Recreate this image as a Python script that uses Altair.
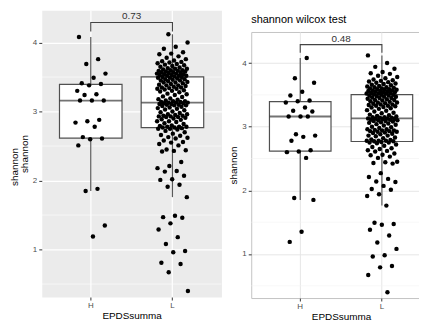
import altair as alt
import pandas as pd

# ---------------- data ----------------
GROUPS = ["H", "L"]

H_VALUES = [4.08, 3.76, 3.69, 3.55, 3.49, 3.41, 3.40, 3.38, 3.30, 3.25, 3.24,
            3.16, 3.16, 3.16,
            2.88, 2.86, 2.84, 2.78, 2.63, 2.61, 2.60, 2.51, 1.88, 1.85, 1.35, 1.19]

L_VALUES = [
    # above Q3
    4.12, 4.00, 3.94, 3.91, 3.86, 3.84, 3.83, 3.80, 3.78, 3.76, 3.74, 3.73, 3.72,
    3.71, 3.70, 3.69, 3.68, 3.67, 3.66, 3.65, 3.64, 3.63, 3.62, 3.62, 3.61, 3.60,
    3.60, 3.59, 3.59, 3.58, 3.58, 3.57, 3.57, 3.56, 3.56, 3.55, 3.55, 3.54, 3.54,
    3.53, 3.53, 3.52, 3.52, 3.52, 3.51,
    # median .. Q3
    3.50, 3.50, 3.49, 3.49, 3.48, 3.47, 3.47, 3.46, 3.45, 3.45, 3.44, 3.43, 3.42,
    3.42, 3.41, 3.40, 3.39, 3.38, 3.38, 3.37, 3.36, 3.35, 3.35, 3.34, 3.33, 3.33,
    3.32, 3.31, 3.30, 3.29, 3.28, 3.26, 3.25, 3.24, 3.22, 3.21, 3.19, 3.18, 3.17,
    3.16, 3.15, 3.15, 3.14, 3.14, 3.13,
    # Q1 .. median
    3.13, 3.13, 3.12, 3.12, 3.11, 3.11, 3.10, 3.10, 3.09, 3.09, 3.08, 3.07, 3.06,
    3.05, 3.04, 3.03, 3.02, 3.00, 2.99, 2.98, 2.96, 2.96, 2.95, 2.94, 2.94, 2.93,
    2.93, 2.92, 2.92, 2.91, 2.90, 2.89, 2.88, 2.86, 2.86, 2.85, 2.83, 2.82, 2.80,
    2.79, 2.78, 2.78, 2.78, 2.77, 2.77,
    # below Q1
    2.76, 2.75, 2.75, 2.74, 2.72, 2.70, 2.68, 2.66, 2.65, 2.63, 2.62, 2.61, 2.58,
    2.56, 2.55, 2.53, 2.51,
    # lower tail
    2.45, 2.44, 2.43, 2.42, 2.27, 2.21, 2.18, 2.14, 2.13, 2.07, 2.02, 2.01, 1.94,
    1.91, 1.76, 1.49, 1.47, 1.46, 1.38, 1.29, 1.18, 1.08, 0.98, 0.96, 0.81, 0.79,
    0.67, 0.40,
]

P_LABELS = ["0.73", "0.48"]
BRACKET_X = ["H", "H", "L", "L"]
BRACKET_Y = [4.16, 4.29, 4.29, 4.16]
P_LABEL_Y = 4.38
RIGHT_TITLE = "shannon wilcox test"
X_TITLE = "EPDSsumma"
Y_TITLE = "shannon"
Y_MAJOR = [1, 2, 3, 4]
Y_MINOR = [0.5, 1.5, 2.5, 3.5]

FONT = "Liberation Sans"


def jitter(n, phase):
    return [((i * 0.6180339887 + phase) % 1.0 - 0.5) * 0.38 for i in range(n)]


def points_frame(phase_h, phase_l):
    rows = []
    for v, j in zip(H_VALUES, jitter(len(H_VALUES), phase_h)):
        rows.append({"grp": "H", "shannon": v, "jit": j})
    for v, j in zip(L_VALUES, jitter(len(L_VALUES), phase_l)):
        rows.append({"grp": "L", "shannon": v, "jit": j})
    return pd.DataFrame(rows)


def panel(width, height, domain, box_size, style, p_label, phases, y_title_pad,
          extra_title=False):
    pts = points_frame(*phases)
    xscale = alt.Scale(domain=GROUPS, paddingInner=0, paddingOuter=0.1)
    yscale = alt.Scale(domain=domain, nice=False, zero=False)
    xaxis = alt.Axis(title=X_TITLE, labelAngle=0, grid=True, gridColor=style["grid"],
                     gridWidth=style["gw"], tickSize=3, tickColor="#333333",
                     labelColor="#4D4D4D", labelFontSize=8, labelPadding=2,
                     domain=False, titleFontSize=10, titleFontWeight="normal",
                     titleColor="black", titlePadding=1, labelFont=FONT, titleFont=FONT)
    yaxis = alt.Axis(values=Y_MAJOR, format="d", labelOverlap=False, labelFlush=False,
                     grid=True, gridColor=style["grid"], gridWidth=style["gw"],
                     tickSize=3, tickColor="#333333", labelColor="#4D4D4D",
                     labelFontSize=8, labelPadding=2, domain=False,
                     title=Y_TITLE, titleFontSize=10, titleFontWeight="normal",
                     titleColor="black", titlePadding=y_title_pad,
                     labelFont=FONT, titleFont=FONT)

    minor = alt.Chart(pd.DataFrame({"m": Y_MINOR})).mark_rule(
        color=style["grid_minor"], strokeWidth=style["gw_minor"]
    ).encode(y=alt.Y("m:Q", scale=yscale, axis=yaxis))

    box = alt.Chart(pts).mark_boxplot(
        extent=1.5, size=box_size, outliers=False, ticks=False,
        box={"fill": "white", "stroke": "#505050", "strokeWidth": 1.2},
        median={"color": "#383838", "thickness": 1.8},
        rule={"color": "#5A5A5A", "strokeWidth": 1.2},
    ).encode(
        x=alt.X("grp:N", scale=xscale, axis=xaxis),
        y=alt.Y("shannon:Q"),
    )
    dots = alt.Chart(pts).mark_circle(size=20, color="black", opacity=1).encode(
        x=alt.X("grp:N"),
        xOffset=alt.XOffset("jit:Q", scale=alt.Scale(domain=[-0.5, 0.5])),
        y=alt.Y("shannon:Q"),
    )
    br = pd.DataFrame({"grp": BRACKET_X, "y": BRACKET_Y, "k": list(range(4))})
    bracket = alt.Chart(br).mark_line(color="#444444", strokeWidth=1.1).encode(
        x=alt.X("grp:N"), y=alt.Y("y:Q"), order="k:Q")
    lab = pd.DataFrame({"grp": ["H"], "off": [0.5], "y": [P_LABEL_Y], "t": [p_label]})
    label = alt.Chart(lab).mark_text(fontSize=10, color="#333333", font=FONT,
                                     baseline="middle").encode(
        x=alt.X("grp:N"), xOffset=alt.XOffset("off:Q"), y=alt.Y("y:Q"), text="t:N")
    layers = [minor, box, dots, bracket, label]
    if extra_title:
        # the second, slightly shifted copy of the y-axis title seen in the reference
        dup = alt.Chart(pd.DataFrame({"t": [Y_TITLE]})).mark_text(
            angle=270, fontSize=10, font=FONT, color="black",
            align="center", baseline="middle",
        ).encode(x=alt.value(-27), y=alt.value(158), text="t:N")
        layers.append(dup)
    return alt.layer(*layers).properties(
        width=width, height=height,
        view=alt.ViewBackground(fill=style["fill"], stroke=style["stroke"], strokeWidth=1),
    )


left_style = {"fill": "#EBEBEB", "stroke": "transparent", "grid": "#FFFFFF",
              "grid_minor": "#FFFFFF", "gw": 1.2, "gw_minor": 0.6}
right_style = {"fill": "#FFFFFF", "stroke": "#C4C4C4", "grid": "#E6E6E6",
               "grid_minor": "#F2F2F2", "gw": 1.0, "gw_minor": 0.6}

left = panel(181, 289, [0.312, 4.47], 63, left_style, P_LABELS[0], (0.12, 0.37),
             2.5, extra_title=True)
right = panel(181, 268, [0.308, 4.488], 62, right_style, P_LABELS[1], (0.71, 0.05),
              3.5)

title_chart = alt.Chart(pd.DataFrame({"t": [RIGHT_TITLE]})).mark_text(
    align="left", baseline="middle", fontSize=11, color="black", font=FONT
).encode(x=alt.value(0), y=alt.value(10), text="t:N").properties(
    width=181, height=20, view=alt.ViewBackground(stroke="transparent"))

chart = alt.hconcat(left, alt.vconcat(title_chart, right, spacing=0), spacing=5).properties(
    padding={"left": 1, "top": 0, "right": -13, "bottom": 0}
).configure(font=FONT)

chart.save("out.html", embed_options={"renderer": "svg", "actions": False})
